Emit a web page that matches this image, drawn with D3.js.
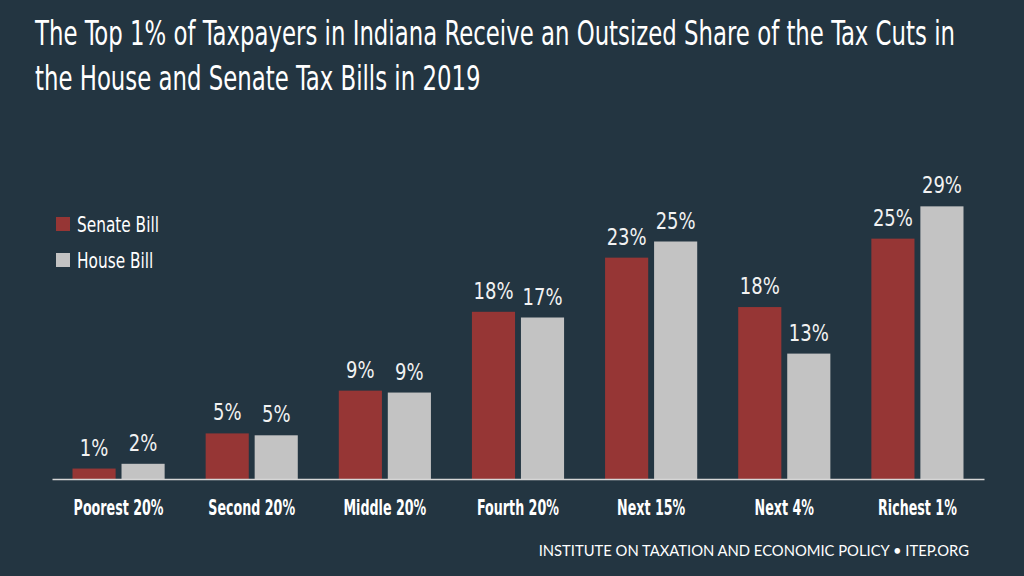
<!DOCTYPE html>
<html>
<head>
<meta charset="utf-8">
<script src="https://cdn.jsdelivr.net/npm/d3@7"></script>
<style>
  html, body { margin: 0; padding: 0; background: #233541; }
  svg { display: block; }
</style>
</head>
<body>
<div id="chart"></div>
<script>
// data (percent of the tax cut)
const categories = ["Poorest 20%", "Second 20%", "Middle 20%", "Fourth 20%", "Next 15%", "Next 4%", "Richest 1%"];
const seriesNames = ["Senate Bill", "House Bill"];
const senate = [1.1, 4.8, 9.3, 17.6, 23.3, 18.1, 25.3];
const house = [1.6, 4.6, 9.1, 17.0, 25.0, 13.2, 28.7];
const titleLines = [
  "The Top 1% of Taxpayers in Indiana Receive an Outsized Share of the Tax Cuts in",
  "the House and Senate Tax Bills in 2019"
];
const source = "INSTITUTE ON TAXATION AND ECONOMIC POLICY \u2022 ITEP.ORG";

const w = 1024, h = 576;
const bg = "#233541";
const colors = {"Senate Bill": "#963635", "House Bill": "#c3c3c3"};
const condensed = "'Liberation Sans Narrow', 'DejaVu Sans Condensed', Roboto, 'Liberation Sans', sans-serif";

const svg = d3.select("#chart").append("svg")
  .attr("width", w)
  .attr("height", h);

svg.append("rect").attr("width", w).attr("height", h).attr("fill", bg);

// squeeze a selection of texts horizontally so refText comes out refWidth wide
function squeeze(sel, refWidth) {
  var probe = svg.append("text")
    .style("font-family", sel.style("font-family"))
    .style("font-size", sel.style("font-size"))
    .style("font-weight", sel.style("font-weight"))
    .text(sel.attr("data-ref"));
  var k = refWidth / probe.node().getComputedTextLength();
  probe.remove();
  sel.each(function() {
    var t = d3.select(this);
    var prev = t.attr("transform") || "";
    t.attr("transform", prev + " scale(" + k + ",1)");
  });
  return k;
}

// title
var title = svg.append("g").attr("transform", "translate(35,0)");
var titleText = title.selectAll("text")
  .data(titleLines)
  .enter().append("text")
  .attr("transform", function(d, i) { return "translate(0," + (45 + i * 45) + ")"; })
  .style("font-family", condensed)
  .style("font-size", "34px")
  .style("fill", "#ffffff")
  .text(function(d) { return d; });
titleText.attr("data-ref", titleLines[0]);
squeeze(titleText, 920);

// scales
var x0 = d3.scaleBand()
  .domain(categories)
  .range([52, 984])
  .padding(0);

var x1 = d3.scaleBand()
  .domain(seriesNames)
  .range([20.5, x0.step() - 20.5])
  .paddingInner(0.12);

var y = d3.scaleLinear()
  .domain([0, 30])
  .range([479, 194]);

var rows = categories.map(function(c, i) {
  return {cat: c, vals: [
    {name: seriesNames[0], v: senate[i]},
    {name: seriesNames[1], v: house[i]}
  ]};
});

var groups = svg.selectAll("g.group")
  .data(rows)
  .enter().append("g")
  .attr("class", "group")
  .attr("transform", function(d) { return "translate(" + x0(d.cat) + ",0)"; });

groups.selectAll("rect")
  .data(function(d) { return d.vals; })
  .enter().append("rect")
  .attr("x", function(d) { return x1(d.name); })
  .attr("y", function(d) { return y(d.v); })
  .attr("width", x1.bandwidth())
  .attr("height", function(d) { return y(0) - y(d.v); })
  .attr("fill", function(d) { return colors[d.name]; });

var fmt = d3.format(".0f");
var valueLabels = groups.selectAll("text.val")
  .data(function(d) { return d.vals; })
  .enter().append("text")
  .attr("class", "val")
  .attr("transform", function(d) {
    return "translate(" + (x1(d.name) + x1.bandwidth() / 2) + "," + (y(d.v) - 13) + ")";
  })
  .attr("text-anchor", "middle")
  .style("font-family", condensed)
  .style("font-size", "23px")
  .style("fill", "#f2f2f2")
  .text(function(d) { return fmt(d.v) + "%"; });
valueLabels.attr("data-ref", "29%");
squeeze(valueLabels, 40);

// x axis
var xAxis = svg.append("g")
  .attr("transform", "translate(0," + y(0) + ")")
  .call(d3.axisBottom(x0).tickSize(0).tickSizeOuter(0).tickPadding(21));

xAxis.select(".domain")
  .attr("stroke", "#d6d6d6")
  .attr("stroke-width", 1.5);

var tickText = xAxis.selectAll("text")
  .attr("fill", "#ffffff")
  .style("font-family", condensed)
  .style("font-size", "21px")
  .style("font-weight", "bold");
tickText.attr("data-ref", "Poorest 20%");
squeeze(tickText, 90);

// legend
var legend = svg.selectAll("g.legend")
  .data(seriesNames)
  .enter().append("g")
  .attr("class", "legend")
  .attr("transform", function(d, i) { return "translate(56," + (217 + i * 36) + ")"; });

legend.append("rect")
  .attr("width", 14)
  .attr("height", 14)
  .attr("fill", function(d) { return colors[d]; });

var legendText = legend.append("text")
  .attr("transform", "translate(21,15)")
  .style("font-family", condensed)
  .style("font-size", "22px")
  .style("fill", "#ffffff")
  .text(function(d) { return d; });
legendText.attr("data-ref", "Senate Bill");
squeeze(legendText, 82);

// source line
var src = svg.append("text")
  .attr("transform", "translate(969,556)")
  .attr("text-anchor", "end")
  .style("font-family", "Lato, 'Open Sans', sans-serif")
  .style("font-size", "15px")
  .style("fill", "#ffffff")
  .text(source);
src.attr("data-ref", source);
squeeze(src, 431);
</script>
</body>
</html>
